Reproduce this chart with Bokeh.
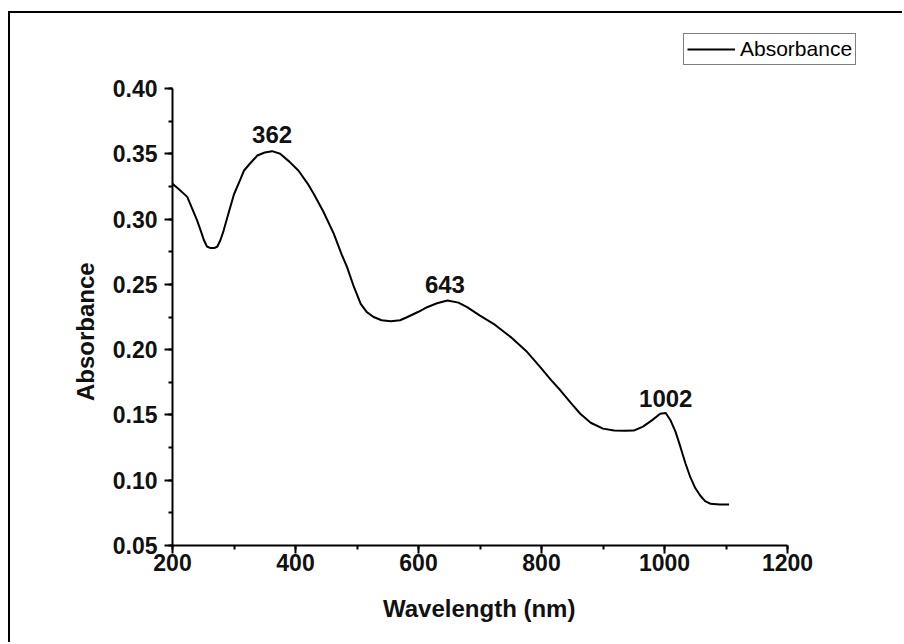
from bokeh.plotting import figure
from bokeh.models import (Legend, LegendItem, SingleIntervalTicker, NumeralTickFormatter,
                          Range1d, Title)
from bokeh.core.properties import value
from bokeh.embed import file_html
from bokeh.resources import INLINE

wavelength = [200, 210, 224, 240, 246, 251, 256, 262, 268, 273, 278, 283, 292, 300, 310, 316,
              325, 338, 350, 362, 375, 390, 405, 420, 430, 445, 462, 475, 484, 495, 506, 516,
              527, 540, 555, 570, 582, 600, 614, 630, 647, 665, 679, 700, 722, 750, 775, 798,
              815, 831, 848, 863, 880, 900, 918, 935, 950, 965, 980, 993, 1002, 1010, 1018,
              1026, 1034, 1042, 1050, 1058, 1066, 1075, 1090, 1105]
absorbance = [0.327, 0.323, 0.317, 0.299, 0.291, 0.284, 0.279, 0.2778, 0.2778, 0.279, 0.284,
              0.291, 0.306, 0.319, 0.330, 0.337, 0.342, 0.3487, 0.351, 0.352, 0.350, 0.344,
              0.337, 0.327, 0.319, 0.306, 0.289, 0.273, 0.263, 0.248, 0.235, 0.2287, 0.225,
              0.2225, 0.2218, 0.2225, 0.225, 0.229, 0.2325, 0.2355, 0.2376, 0.236, 0.2325,
              0.226, 0.2198, 0.2096, 0.199, 0.1866, 0.177, 0.1687, 0.159, 0.1509, 0.144,
              0.1395, 0.138, 0.1378, 0.138, 0.141, 0.146, 0.1509, 0.1515, 0.1457, 0.137,
              0.1253, 0.113, 0.1023, 0.094, 0.0883, 0.084, 0.0819, 0.0814, 0.0814]

peak_labels = ["362", "643", "1002"]
peak_x = [362, 643, 1002]
peak_label_y = [0.3648, 0.2499, 0.1624]

x_axis_start, x_axis_end = 200, 1200
y_axis_start, y_axis_end = 0.05, 0.40
x_ticks_interval = 200
y_ticks_interval = 0.05

FONT = "Liberation Sans"

# layout (canvas pixels)
W, H = 894, 631
AX_LEFT, AX_RIGHT = 162, 777       # canvas x of 200 and 1200
AX_TOP, AX_BOTTOM = 75, 532        # canvas y of 0.40 and 0.05
FRAME_TOP, FRAME_RIGHT = 15, 860   # extended frame so the legend is not clipped

x_end = x_axis_start + (x_axis_end - x_axis_start) * (FRAME_RIGHT - AX_LEFT) / (AX_RIGHT - AX_LEFT)
y_end = y_axis_start + (y_axis_end - y_axis_start) * (AX_BOTTOM - FRAME_TOP) / (AX_BOTTOM - AX_TOP)

p = figure(width=W, height=H, output_backend="svg", toolbar_location=None,
           x_range=Range1d(x_axis_start, x_end), y_range=Range1d(y_axis_start, y_end),
           min_border_left=AX_LEFT, min_border_right=W - FRAME_RIGHT,
           min_border_top=FRAME_TOP, min_border_bottom=H - AX_BOTTOM)
p.styles = {"border-top": "2px solid black", "border-left": "2px solid black",
            "margin-top": "11px", "margin-left": "8px"}

p.grid.visible = False
p.outline_line_color = None
p.background_fill_color = "white"
p.border_fill_color = "white"

line = p.line(wavelength, absorbance, line_color="black", line_width=2)

p.text(x=peak_x, y=peak_label_y, text=peak_labels, text_font=value(FONT),
       text_font_size="24px", text_font_style="bold", text_align="center",
       text_baseline="middle", text_color="#111111")

p.xaxis.ticker = SingleIntervalTicker(interval=x_ticks_interval, num_minor_ticks=2)
p.yaxis.ticker = SingleIntervalTicker(interval=y_ticks_interval, num_minor_ticks=2)
p.yaxis.formatter = NumeralTickFormatter(format="0.00")
p.xaxis.bounds = (x_axis_start, x_axis_end)
p.yaxis.bounds = (y_axis_start, y_axis_end)

for ax in (p.xaxis[0], p.yaxis[0]):
    ax.axis_line_width = 2
    ax.axis_line_color = "black"
    ax.major_tick_line_width = 2
    ax.minor_tick_line_width = 2
    ax.major_tick_in = 0
    ax.major_tick_out = 8
    ax.minor_tick_in = 0
    ax.minor_tick_out = 4
    ax.major_label_text_font = FONT
    ax.major_label_text_font_size = "23px"
    ax.major_label_text_font_style = "bold"
    ax.major_label_text_color = "#111111"

p.xaxis.major_label_standoff = 0
p.yaxis.major_label_standoff = 7

XTITLE_W, YTITLE_W = 194, 139
xtitle = Title(text="Wavelength (nm)", align="left", text_font=FONT, text_font_size="24px",
               text_font_style="bold", text_color="#111111", standoff=38,
               offset=(AX_LEFT + AX_RIGHT) / 2 - AX_LEFT - XTITLE_W / 2)
ytitle = Title(text="Absorbance", align="left", text_font=FONT, text_font_size="24px",
               text_font_style="bold", text_color="#111111", standoff=22,
               offset=AX_BOTTOM - 318 - YTITLE_W / 2)
p.add_layout(xtitle, "below")
p.add_layout(ytitle, "left")

legend = Legend(items=[LegendItem(label="Absorbance", renderers=[line])],
                location=(673 - AX_LEFT, AX_BOTTOM - 52), border_line_color="black",
                border_line_width=1, padding=3, margin=0, spacing=0, label_text_font=FONT,
                label_text_font_size="21px", label_text_color="black", glyph_width=48,
                glyph_height=20, label_standoff=5, background_fill_color="white",
                background_fill_alpha=1)
p.add_layout(legend, "center")

open("out.html", "w").write(file_html(p, INLINE))
